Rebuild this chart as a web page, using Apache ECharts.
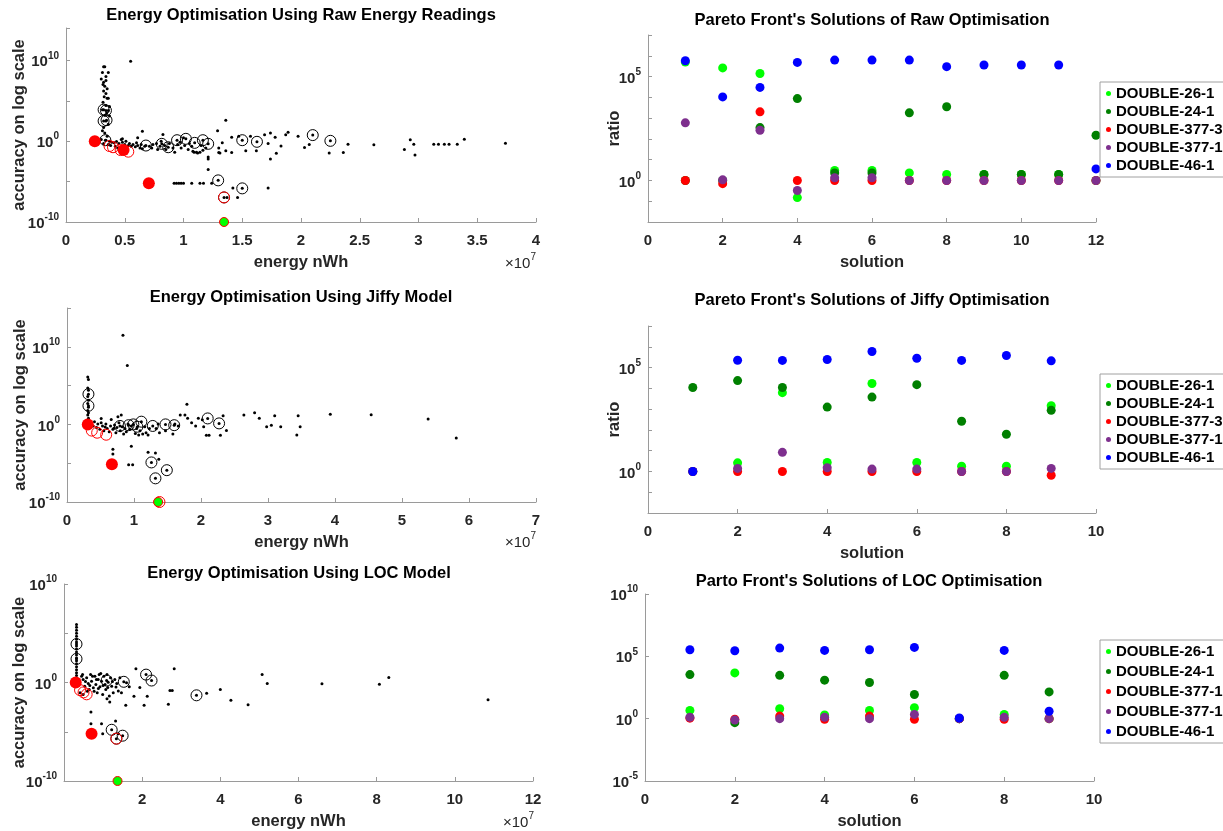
<!DOCTYPE html>
<html>
<head>
<meta charset="utf-8">
<script src="https://cdn.jsdelivr.net/npm/echarts@6.0.0/dist/echarts.min.js"></script>
<style>
  html, body { margin: 0; padding: 0; background: #fff; }
  #chart { width: 1223px; height: 831px; }
</style>
</head>
<body>
<div id="chart"></div>
<script>
// energy in units of 1e7 nWh, accuracy given as log10 value
var rawDots = [
  [0.32,9.2],[0.33,9.2],[0.31,8.5],[0.36,8.5],[0.34,8.0],[0.30,7.7],[0.34,7.5],[0.32,7.3],[0.315,7.0],[0.33,6.8],
  [0.35,6.5],[0.32,6.2],[0.34,5.9],[0.325,5.5],[0.35,5.3],[0.36,5.3],[0.315,4.8],[0.34,4.4],[0.37,4.3],[0.31,3.9],
  [0.36,3.8],[0.345,3.5],[0.33,3.2],[0.37,3.1],[0.34,2.5],[0.36,2.1],[0.32,1.7],[0.31,1.3],[0.33,1.0],[0.35,0.6],
  [0.55,9.9],
  [0.30,0.21],[0.34,0.12],[0.37,0],[0.39,-0.12],[0.41,-0.21],[0.43,-0.04],[0.45,-0.29],[0.47,0.21],[0.48,-0.12],[0.50,-0.41],
  [0.51,0],[0.53,-0.54],[0.54,-0.29],[0.555,-0.62],[0.57,-0.41],[0.59,-0.70],[0.60,-0.21],[0.61,-0.54],[0.63,-0.83],[0.64,-0.41],
  [0.65,-0.95],[0.67,-0.62],[0.61,0.41],[0.65,1.24],[0.71,-0.62],[0.73,-0.83],[0.74,-0.41],[0.77,-0.29],[0.78,-1.04],[0.80,-0.62],
  [0.81,0],[0.825,0.83],[0.84,-0.54],[0.85,-1.04],[0.88,-0.29],[0.91,-0.83],[0.925,-1.37],[0.95,-0.41],[0.97,-0.12],[0.98,-0.83],
  [1.0,0.41],[1.01,-0.54],[1.04,-1.04],[1.05,-0.29],[1.07,-0.62],[1.08,-1.24],[1.09,-1.37],[1.11,-1.37],[1.12,-1.45],[1.14,-1.37],
  [1.15,-0.54],[1.165,-1.12],[1.19,-0.83],[1.21,-1.95],[1.30,-0.83],[1.31,-1.45],
  [0.32,-0.29],[0.36,-0.41],[0.38,-0.54],[0.42,-0.62],[0.44,-0.83],[0.48,0.29],[0.51,-0.83],
  [0.92,-5.2],[0.94,-5.2],[0.96,-5.2],[0.98,-5.2],[1.0,-5.2],[1.07,-5.2],[1.14,-5.2],[1.17,-5.2],[1.24,-5.2],[1.21,-3.5],
  [1.21,-2.2],[1.42,-5.8],[1.37,-6.96],[1.46,-6.96],[1.72,-5.8],
  [1.29,1.3],[1.36,2.6],[1.33,-0.2],[1.30,-1.4],[1.36,-1.2],[1.41,-1.4],[1.41,0.5],[1.47,0.6],[1.53,-1.2],[1.57,0.6],
  [1.62,-1.2],[1.69,0.8],[1.72,-0.3],[1.74,1.0],[1.74,-2.2],[1.78,0.5],[1.79,-1.5],[1.83,-0.6],[1.87,0.8],[1.89,1.1],
  [1.975,0.62],[2.03,-0.79],[2.07,-0.41],[2.24,-1.45],[2.36,-1.41],[2.40,-0.37],[2.62,-0.45],[2.88,-1.03],[2.93,0.17],[2.96,-0.37],
  [2.97,-1.7],[3.13,-0.37],[3.17,-0.37],[3.22,-0.37],[3.26,-0.37],[3.33,-0.37],[3.39,0.25],[3.74,-0.25]
];
var rawRings = [
  [0.32,3.9],[0.34,3.8],[0.32,2.5],[0.345,2.6],[0.335,0.12],[0.68,-0.54],[0.815,-0.33],[0.87,-0.75],[0.945,0.12],[1.02,0.29],
  [1.095,-0.21],[1.165,0.12],[1.21,-0.33],[1.50,0.12],[1.625,-0.08],[2.10,0.75],[2.25,0.04],[1.295,-4.85],[1.50,-5.84],[1.345,-6.96]
];
var rawRedRings = [[0.37,-0.6],[0.40,-0.75],[0.465,-1.1],[0.53,-1.3],[1.345,-6.96]];
var rawRedDots = [[0.245,0],[0.49,-1.1],[0.705,-5.2]];
var rawBest = [[1.345,-10]];

var jiffyDots = [
  [0.31,6.1],[0.32,5.8],[0.31,4.7],[0.32,4.4],[0.31,3.6],[0.32,3.1],[0.31,2.7],[0.32,2.2],[0.31,1.8],[0.32,1.5],
  [0.31,1.2],[0.32,0.8],[0.31,0.5],
  [0.835,11.5],[0.90,7.6],
  [0.36,0.04],[0.39,-0.21],[0.41,0.34],[0.44,-0.39],[0.46,0.04],[0.49,-0.64],[0.51,0.77],[0.53,-0.21],[0.55,-0.82],[0.58,0.04],
  [0.60,-0.52],[0.63,-0.94],[0.65,-0.21],[0.66,0.64],[0.685,-0.64],[0.71,-0.09],[0.73,-1.07],[0.745,-0.39],[0.76,0.99],[0.775,0.21],
  [0.795,-0.82],[0.81,1.2],[0.825,-0.3],[0.845,-1.24],[0.865,-0.52],[0.885,-0.94],[0.91,0.04],[0.935,-0.64],[0.96,-0.21],[1.02,-1.16],
  [1.04,-0.52],[1.07,-1.37],[1.09,-0.82],[1.13,-1.24],[1.16,-0.3],[1.18,-1.07],[1.21,-1.37],[1.23,-0.52],[1.33,-0.52],[1.36,0.04],
  [1.38,-1.07],[1.47,-0.82],[1.58,-1.24],[1.61,0.04],[1.66,-0.21],[0.51,0.2],[0.57,-0.35],[0.70,-0.5],
  [0.96,-2.8],[0.685,-3.2],[0.685,-3.8],[0.92,-5.2],[0.98,-5.2],[1.21,-3.6],[1.32,-3.7],[1.37,-4.5],
  [1.69,1.2],[1.76,1.2],[1.79,2.6],[1.80,0.8],[1.86,0.2],[1.92,-0.2],[1.96,0.8],[2.02,0.6],[2.04,-0.3],[2.08,-1.4],
  [2.12,-1.4],[2.29,-1.4],[2.33,1.1],[2.38,-0.8],[2.64,1.2],[2.80,1.5],[2.87,0.8],[2.98,-0.3],[3.05,-0.1],[3.10,1.1],
  [3.19,-0.3],[3.43,-1.38],[3.45,1.1],[3.48,-0.3],[3.93,1.32],[4.54,1.24],[5.39,0.68],[5.81,-1.76]
];
var jiffyRings = [
  [0.32,3.9],[0.32,2.4],[0.79,-0.2],[0.92,-0.1],[0.99,0],[1.05,-0.3],[1.11,0.35],[1.28,-0.2],[1.47,0],[1.60,-0.1],
  [2.10,0.77],[2.27,0.13],[1.26,-4.9],[1.49,-5.9],[1.32,-6.95]
];
var jiffyRedRings = [[0.37,-0.8],[0.45,-1.07],[0.585,-1.33],[1.38,-10]];
var jiffyRedDots = [[0.31,0],[0.67,-5.15]];
var jiffyBest = [[1.36,-10]];

var locDots = [
  [0.32,5.9],[0.32,5.6],[0.32,5.3],[0.32,5.0],[0.32,4.7],[0.32,4.4],[0.32,4.1],[0.32,3.7],[0.32,3.4],[0.32,3.1],
  [0.32,2.8],[0.32,2.5],[0.32,2.2],[0.32,1.9],[0.32,1.6],[0.32,1.3],[0.32,1.0],[0.32,0.7],[0.32,0.4],
  [0.45,0.64],[0.49,0.3],[0.53,-0.37],[0.58,0.47],[0.62,-0.1],[0.645,-0.71],[0.68,0.81],[0.705,0.13],[0.75,-0.54],[0.79,0.64],
  [0.815,-0.2],[0.85,-1.04],[0.875,0.3],[0.90,0.81],[0.92,-0.44],[0.96,0.13],[0.99,-1.21],[1.02,0.64],[1.05,-0.2],[1.07,-0.71],
  [1.10,0.81],[1.13,0.03],[1.16,-1.38],[1.19,0.47],[1.22,-0.37],[1.26,-1.04],[1.30,0.3],[1.35,-0.1],[1.39,-0.87],[1.43,0.47],
  [1.47,-1.04],[1.60,-0.03],[1.67,-0.44],[1.17,-1.98],[1.10,-1.65],[0.41,-1.04],[0.49,-1.21],[0.73,0.64],[0.83,0.3],[0.94,0.91],
  [0.475,0.81],[0.55,0.1],[0.66,-0.3],[0.77,-0.9],[0.88,-0.6],[1.0,-0.3],[1.12,-0.5],[1.24,0.1],[1.33,-0.45],[0.60,-0.9],
  [1.84,1.4],[2.82,1.4],[1.79,-1.4],[1.94,-0.5],[2.13,-1.4],[1.58,-2.3],[2.05,-2.3],[2.67,-2.2],[2.71,-0.8],[2.77,-0.8],
  [3.65,-1.1],[4.0,-0.7],[4.27,-1.8],[4.71,-2.25],[0.69,-3.0],[0.69,-4.2],[0.96,-4.2],[0.99,-5.2],[1.32,-3.9],[1.39,-5.2],
  [5.07,0.8],[5.2,-0.1],[6.6,-0.13],[8.07,-0.17],[8.31,0.5],[10.85,-1.75]
];
var locRings = [[0.32,3.9],[0.32,2.4],[1.09,0.2],[1.53,0.07],[2.10,0.8],[2.24,0.2],[3.39,-1.3],[1.22,-4.8],[1.50,-5.4],[1.34,-5.7]];
var locRedRings = [[0.41,-0.77],[0.50,-1.0],[0.58,-1.2],[1.34,-5.7]];
var locRedDots = [[0.30,0],[0.705,-5.2]];
var locBest = [[1.37,-10]];

// pareto front ratios, one value per solution
var rawSolution = [1,2,3,4,5,6,7,8,9,10,11,12];
var raw26 = [5e5,2.6e5,1.4e5,0.15,3,3,2.3,1.95,1.95,1.95,1.95,1];
var raw24 = [1,1,350,8700,2.3,2.3,1800,3500,1.95,1.95,1.95,150];
var raw3773 = [1,0.7,2000,1,1,1,1,1,1,1,1,1];
var raw3771 = [590,1.07,260,0.33,1.35,1.35,1,1,1,1,1,1];
var raw46 = [5.8e5,1.05e4,3e4,4.8e5,6.2e5,6.2e5,6.2e5,3e5,3.6e5,3.6e5,3.6e5,3.6];

var jiffySolution = [1,2,3,4,5,6,7,8,9];
var jiffy26 = [1,2.6,6200,2.7,1.7e4,2.7,1.8,1.8,1450];
var jiffy24 = [1.1e4,2.35e4,1.1e4,1250,3800,1.5e4,260,62,870];
var jiffy3773 = [1,1,1,1,1,1,1,1,0.66];
var jiffy3771 = [1,1.4,8.3,1.5,1.3,1.3,1,1,1.4];
var jiffy46 = [1,2.25e5,2.2e5,2.45e5,5.9e5,2.8e5,2.2e5,3.8e5,2.1e5];

var locSolution = [1,2,3,4,5,6,7,8,9];
var loc26 = [4.6,4700,6.3,2,4.6,7.6,1,2.2,1];
var loc24 = [3450,0.48,3000,1230,800,87,1,3000,140];
var loc3771a = [1.1,0.9,1.6,0.9,1.6,0.9,1,0.9,1];
var loc3771b = [1.3,0.78,1,1.3,1,2.2,1,1.3,1];
var loc46 = [3.4e5,2.8e5,4.6e5,3e5,3.4e5,5.2e5,1.12,3e5,3.9];

var font = 'Liberation Sans';
var axisGray = '#9a9a9a';
var labelColor = '#262626';

function toPts(arr) {
  return arr.map(function (p) { return [p[0], Math.pow(10, p[1])]; });
}

var supRich = {
  a: { fontSize: 15, fontWeight: 'bold', color: labelColor, fontFamily: font, lineHeight: 19, verticalAlign: 'bottom' },
  b: { fontSize: 10, fontWeight: 'bold', color: labelColor, fontFamily: font, lineHeight: 12, verticalAlign: 'top' }
};

function logLabel(show) {
  return function (v) {
    var e = Math.round(Math.log10(v));
    if (show.indexOf(e) < 0) return '';
    return '{a|10}{b|' + e + '}';
  };
}

var nameStyle = { fontSize: 16.5, fontWeight: 'bold', color: labelColor, fontFamily: font };
var tickLabel = { fontSize: 15, fontWeight: 'bold', color: labelColor, fontFamily: font, margin: 11 };

function xAxisOf(i, max, step, name, hideZero) {
  return {
    gridIndex: i, type: 'value', min: 0, max: max, interval: step,
    axisLine: { show: true, onZero: false, lineStyle: { color: axisGray } },
    axisTick: { show: true, inside: true, length: 4, lineStyle: { color: axisGray } },
    splitLine: { show: false },
    axisLabel: Object.assign({}, tickLabel, {
      formatter: function (v) { return (hideZero && v === 0) ? '' : String(v); }
    }),
    name: name, nameLocation: 'middle', nameGap: 32, nameMoveOverlap: false, nameTextStyle: nameStyle
  };
}

function yAxisOf(i, min, max, step, show, name, gap) {
  return {
    gridIndex: i, type: 'log', logBase: 10, min: min, max: max, interval: step,
    axisLine: { show: true, lineStyle: { color: axisGray } },
    axisTick: { show: true, inside: true, length: 4, lineStyle: { color: axisGray } },
    splitLine: { show: false },
    axisLabel: { margin: 7, formatter: logLabel(show), rich: supRich },
    name: name, nameLocation: 'middle', nameRotate: 90, nameGap: gap, nameMoveOverlap: false,
    nameTextStyle: nameStyle
  };
}

// one energy panel: dots, rings (with their centre dot), red rings, red fills, best point
function energySeries(i, dots, rings, redRings, redDots, best) {
  var base = { type: 'scatter', xAxisIndex: i, yAxisIndex: i, silent: true };
  return [
    Object.assign({}, base, { data: toPts(dots), symbolSize: 3, itemStyle: { color: '#000', opacity: 1 } }),
    Object.assign({}, base, { data: toPts(rings), symbolSize: 3, itemStyle: { color: '#000', opacity: 1 } }),
    Object.assign({}, base, { data: toPts(rings), symbolSize: 11,
      itemStyle: { color: 'rgba(0,0,0,0)', borderColor: '#000', borderWidth: 1, opacity: 1 } }),
    Object.assign({}, base, { data: toPts(redRings), symbolSize: 11,
      itemStyle: { color: 'rgba(0,0,0,0)', borderColor: '#ff0000', borderWidth: 1, opacity: 1 } }),
    Object.assign({}, base, { data: toPts(redDots), symbolSize: 12, itemStyle: { color: '#ff0000', opacity: 1 } }),
    Object.assign({}, base, { data: toPts(best), symbolSize: 9,
      itemStyle: { color: '#00ff00', borderColor: '#ff0000', borderWidth: 1, opacity: 1 } })
  ];
}

var paretoNames = ['DOUBLE-26-1', 'DOUBLE-24-1', 'DOUBLE-377-3', 'DOUBLE-377-1', 'DOUBLE-46-1'];
var paretoColors = ['#00ff00', '#008000', '#ff0000', '#7e2f8e', '#0000ff'];

function paretoSeries(i, sols, lists, names) {
  return lists.map(function (vals, k) {
    var data = [];
    sols.forEach(function (s, j) { if (vals[j] != null) data.push([s, vals[j]]); });
    return {
      type: 'scatter', name: names[k], xAxisIndex: i, yAxisIndex: i, silent: true,
      data: data, symbolSize: 9, itemStyle: { color: paretoColors[k], opacity: 1 }
    };
  });
}

function legendOf(top, names, gap, size) {
  return {
    orient: 'vertical', left: 1100, top: top, data: names, selectedMode: false,
    icon: 'circle', itemWidth: 5, itemHeight: 5, itemGap: gap,
    padding: [4, 6, 4, 6], borderColor: '#a0a0a0', borderWidth: 1, backgroundColor: '#fff',
    textStyle: { fontSize: size, fontWeight: 'bold', color: '#000', fontFamily: font }
  };
}

function titleText(text, x, y) {
  return { type: 'text', style: { text: text, x: x, y: y, align: 'center', verticalAlign: 'middle',
    fontSize: 16.5, fontWeight: 'bold', fontFamily: font, fill: '#000' } };
}

function scaleNote(x, y) {
  return { type: 'text', style: { text: '{a|\u00d710}{b|7}', x: x, y: y, align: 'right', verticalAlign: 'middle',
    rich: {
      a: { fontSize: 15, fontWeight: 'normal', fill: labelColor, fontFamily: font, lineHeight: 19, verticalAlign: 'bottom' },
      b: { fontSize: 10, fontWeight: 'normal', fill: labelColor, fontFamily: font, lineHeight: 12, verticalAlign: 'top' }
    } } };
}

var locNames = ['DOUBLE-26-1', 'DOUBLE-24-1', 'DOUBLE-377-1 ', 'DOUBLE-377-1', 'DOUBLE-46-1'];

var option = {
  animation: false,
  backgroundColor: '#fff',
  textStyle: { fontFamily: font },
  grid: [
    { left: 66, top: 28, width: 470, height: 194 },
    { left: 67, top: 308, width: 469, height: 194 },
    { left: 64, top: 584, width: 469, height: 198 },
    { left: 648, top: 35, width: 448, height: 187 },
    { left: 648, top: 326, width: 448, height: 187 },
    { left: 645, top: 594, width: 449, height: 187 }
  ],
  xAxis: [
    xAxisOf(0, 4, 0.5, 'energy nWh'),
    xAxisOf(1, 7, 1, 'energy nWh'),
    xAxisOf(2, 12, 2, 'energy nWh', true),
    xAxisOf(3, 12, 2, 'solution'),
    xAxisOf(4, 10, 2, 'solution'),
    xAxisOf(5, 10, 2, 'solution')
  ],
  yAxis: [
    yAxisOf(0, 1e-10, 1e14, 5, [-10, 0, 10], 'accuracy on log scale', 38),
    yAxisOf(1, 1e-10, 1e15, 5, [-10, 0, 10], 'accuracy on log scale', 38),
    yAxisOf(2, 1e-10, 1e10, 5, [-10, 0, 10], 'accuracy on log scale', 36),
    yAxisOf(3, 1e-2, 1e7, 1, [0, 5], 'ratio', 25),
    yAxisOf(4, 1e-2, 1e7, 1, [0, 5], 'ratio', 25),
    yAxisOf(5, 1e-5, 1e10, 5, [-5, 0, 5, 10], '', 25)
  ],
  legend: [
    legendOf(82, paretoNames, 3, 15),
    legendOf(374, paretoNames, 3, 15),
    legendOf(640, locNames, 5, 15)
  ],
  graphic: [
    titleText('Energy Optimisation Using Raw Energy Readings', 301, 15),
    titleText('Energy Optimisation Using Jiffy Model', 301, 297),
    titleText('Energy Optimisation Using LOC Model', 299, 573),
    titleText("Pareto Front's Solutions of Raw Optimisation", 872, 20),
    titleText("Pareto Front's Solutions of Jiffy Optimisation", 872, 300),
    titleText("Parto Front's Solutions of LOC Optimisation", 869, 581),
    scaleNote(536, 262),
    scaleNote(536, 541),
    scaleNote(534, 821)
  ],
  series: [].concat(
    energySeries(0, rawDots, rawRings, rawRedRings, rawRedDots, rawBest),
    energySeries(1, jiffyDots, jiffyRings, jiffyRedRings, jiffyRedDots, jiffyBest),
    energySeries(2, locDots, locRings, locRedRings, locRedDots, locBest),
    paretoSeries(3, rawSolution, [raw26, raw24, raw3773, raw3771, raw46], paretoNames),
    paretoSeries(4, jiffySolution, [jiffy26, jiffy24, jiffy3773, jiffy3771, jiffy46], paretoNames),
    paretoSeries(5, locSolution, [loc26, loc24, loc3771a, loc3771b, loc46], locNames)
  )
};

var chart = echarts.init(document.getElementById('chart'), null, { renderer: 'canvas' });
chart.setOption(option);
</script>
</body>
</html>
